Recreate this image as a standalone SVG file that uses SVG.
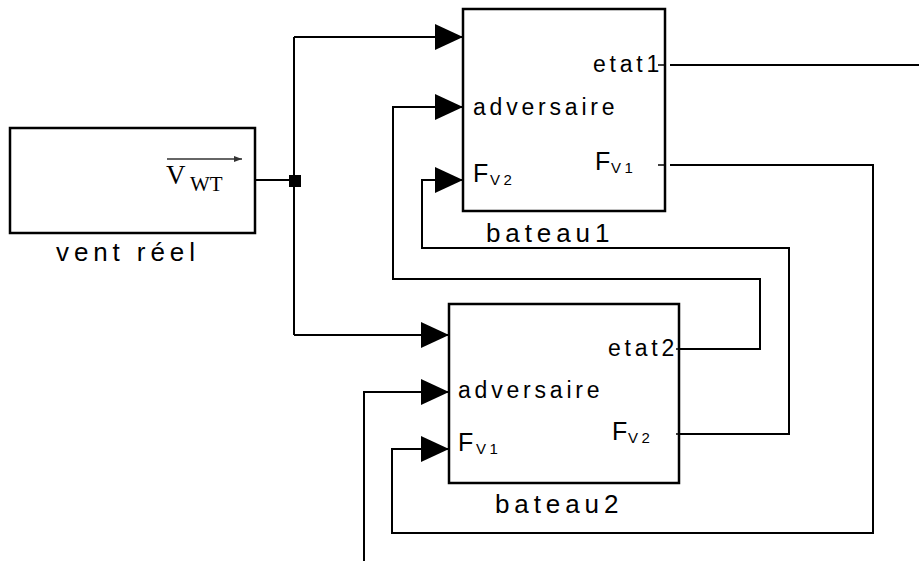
<svg xmlns="http://www.w3.org/2000/svg" width="919" height="561" viewBox="0 0 919 561">
<defs>
<marker id="tri" viewBox="0 0 28 26" refX="28" refY="13" markerWidth="28" markerHeight="26" markerUnits="userSpaceOnUse" orient="auto">
<path d="M0,0 L28,13 L0,26 Z" fill="#000"/>
</marker>
<marker id="small" viewBox="0 0 8 6" refX="8" refY="3" markerWidth="8" markerHeight="6" markerUnits="userSpaceOnUse" orient="auto">
<path d="M0,0 L8,3 L0,6 Z" fill="#333"/>
</marker>
</defs>
<style>
.box{fill:#fff;stroke:#000;stroke-width:2.5}
.wire{fill:none;stroke:#000;stroke-width:2}
.tick{stroke:#000;stroke-width:1.5}
.port{font-family:"Liberation Sans",Arial,sans-serif;font-size:23px;letter-spacing:3.8px;fill:#000}
.lbl{font-family:"Liberation Sans",Arial,sans-serif;font-size:26px;letter-spacing:4.9px;fill:#000}
.F{font-family:"Liberation Sans",Arial,sans-serif;font-size:25px;fill:#000}
.sub{font-family:"Liberation Sans",Arial,sans-serif;font-size:15px;letter-spacing:3.5px;fill:#000}
.serif{font-family:"Liberation Serif","Times New Roman",serif;fill:#000}
</style>
<rect width="919" height="561" fill="#fff"/>

<g id="connectors">
<path class="wire" d="M251,180 H294"/>
<path class="wire" d="M294,37 V335"/>
<path class="wire" d="M294,37 H463" marker-end="url(#tri)"/>
<path class="wire" d="M294,335 H449" marker-end="url(#tri)"/>
<path class="wire" d="M670,65 H919"/>
<path class="wire" d="M670,165 H873 V533 H392 V449 H449" marker-end="url(#tri)"/>
<path class="wire" d="M679,349 H760 V279 H393 V107 H463" marker-end="url(#tri)"/>
<path class="wire" d="M679,434 H789 V248 H422 V180 H463" marker-end="url(#tri)"/>
<path class="wire" d="M364,561 V392 H449" marker-end="url(#tri)"/>
<rect x="289" y="175" width="12" height="12" fill="#000"/>
</g>

<g id="vent">
<rect class="box" x="10" y="128" width="245" height="105"/>
<line x1="167" y1="159" x2="242" y2="159" stroke="#333" stroke-width="1.5" marker-end="url(#small)"/>
<text class="serif" x="166" y="184" font-size="27">V</text>
<text class="serif" x="190" y="191" font-size="21">WT</text>
<text class="lbl" x="56" y="261">vent réel</text>
</g>

<g id="bateau1">
<rect class="box" x="463" y="9" width="202" height="202"/>
<line class="tick" x1="658" y1="65" x2="666" y2="65"/>
<line class="tick" x1="658" y1="165" x2="666" y2="165"/>
<text class="port" x="593" y="72">etat1</text>
<text class="port" x="473" y="115">adversaire</text>
<text class="F" x="473" y="182">F</text>
<text class="sub" x="490" y="185">V2</text>
<text class="F" x="595" y="170">F</text>
<text class="sub" x="611" y="173">V1</text>
<text class="lbl" x="486" y="242">bateau1</text>
</g>

<g id="bateau2">
<rect class="box" x="449" y="304" width="230" height="179"/>
<line class="tick" x1="676" y1="349" x2="684" y2="349"/>
<line class="tick" x1="676" y1="434" x2="684" y2="434"/>
<text class="port" x="608" y="356">etat2</text>
<text class="port" x="458" y="398">adversaire</text>
<text class="F" x="458" y="451">F</text>
<text class="sub" x="476" y="454">V1</text>
<text class="F" x="612" y="440">F</text>
<text class="sub" x="628" y="443">V2</text>
<text class="lbl" x="495" y="513">bateau2</text>
</g>
</svg>
